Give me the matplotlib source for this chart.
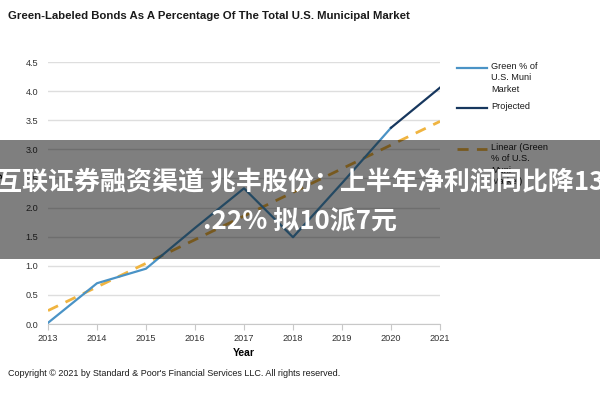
import matplotlib
matplotlib.use("Agg")
import matplotlib.pyplot as plt
from matplotlib import font_manager
from matplotlib.lines import Line2D
from matplotlib.patches import Rectangle

names = {f.name for f in font_manager.fontManager.ttflist}
NARROW = "Liberation Sans Narrow" if "Liberation Sans Narrow" in names else "Liberation Sans"

# ---- data ----
years = [2013, 2014, 2015, 2016, 2017, 2018, 2019, 2020]
green_pct = [0.02, 0.70, 0.95, 1.65, 2.33, 1.49, 2.42, 3.37]
proj_years = [2020, 2021]
proj_vals = [3.37, 4.06]
trend_years = [2013, 2021]
trend_vals = [0.23, 3.48]
xticks = [2013, 2014, 2015, 2016, 2017, 2018, 2019, 2020, 2021]
yticks = [0.0, 0.5, 1.0, 1.5, 2.0, 2.5, 3.0, 3.5, 4.0, 4.5]

title = "Green-Labeled Bonds As A Percentage Of The Total U.S. Municipal Market"
legend_labels = ["Green % of\nU.S. Muni\nMarket", "Projected", "Linear (Green\n% of U.S.\nMuni\nMarket)"]
copyright_txt = "Copyright \u00a9 2021 by Standard & Poor's Financial Services LLC. All rights reserved."
banner_lines = ["互联证券融资渠道 兆丰股份：上半年净利润同比降13", ".22% 拟10派7元"]

C_GREEN = "#4a93c6"
C_PROJ = "#17375e"
C_TREND = "#f0b440"

W, H = 600, 400
fig = plt.figure(figsize=(6, 4), dpi=100)
fig.patch.set_facecolor("white")

def fx(px):
    return px / W

def fy(py):
    return 1 - py / H

ax = fig.add_axes([fx(48), fy(324), fx(440) - fx(48), fy(62) - fy(324)])
ax.set_xlim(2013, 2021)
ax.set_ylim(0, 4.5)
ax.set_yticks(yticks)
ax.set_yticklabels([f"{v:.1f}" for v in yticks], fontfamily=NARROW, fontsize=6.6, color="#333333")
ax.set_xticks(xticks)
ax.set_xticklabels([str(v) for v in xticks], fontfamily=NARROW, fontsize=6.6, color="#333333")
ax.grid(axis="y", color="#dedede", linewidth=1)
ax.set_axisbelow(True)
for s in ["top", "right", "left"]:
    ax.spines[s].set_visible(False)
ax.spines["bottom"].set_color("#c8c8c8")
ax.tick_params(axis="y", length=0, pad=7)
ax.tick_params(axis="x", length=4, color="#c8c8c8", pad=3, direction="out")

ax.plot(trend_years, trend_vals, color=C_TREND, linewidth=2, dashes=(4, 3), zorder=2)
ax.plot(years, green_pct, color=C_GREEN, linewidth=1.6, zorder=3)
ax.plot(proj_years, proj_vals, color=C_PROJ, linewidth=1.6, zorder=3)

ax.set_xlabel("Year", fontfamily=NARROW, fontsize=7.5, fontweight="bold", labelpad=4)
ax.set_ylabel("Percentage", fontfamily=NARROW, fontsize=7, fontweight="bold", labelpad=17)

fig.text(fx(8), fy(16), title, fontfamily=NARROW, fontsize=8.2, fontweight="bold",
         ha="left", va="center", color="#1a1a1a")
fig.text(fx(8), fy(374), copyright_txt, fontfamily=NARROW, fontsize=6.5,
         ha="left", va="center", color="#1a1a1a")

# legend (manual)
leg_y = [68, 108, 149]
leg_styles = [dict(color=C_GREEN, lw=1.6), dict(color=C_PROJ, lw=1.6),
              dict(color=C_TREND, lw=2, dashes=(4, 3))]
for y, lab, st in zip(leg_y, legend_labels, leg_styles):
    fig.add_artist(Line2D([fx(457), fx(487)], [fy(y), fy(y)], transform=fig.transFigure, **st))
    fig.text(fx(491), fy(y - 6), lab, fontfamily=NARROW, fontsize=6.6, ha="left", va="top",
             color="#1a1a1a", linespacing=1.35)

# banner overlay
fig.add_artist(Rectangle((0, fy(259)), 1, fy(140) - fy(259), transform=fig.transFigure,
                         facecolor="black", alpha=0.5, edgecolor="none", zorder=10))
fig.text(0.5, fy(182), banner_lines[0], fontfamily=["Noto Sans CJK SC", "DejaVu Sans"],
         fontsize=18.7, fontweight="bold", color="white", ha="center", va="center", zorder=11)
fig.text(0.5, fy(221), banner_lines[1], fontfamily=["Noto Sans CJK SC", "DejaVu Sans"],
         fontsize=18.7, fontweight="bold", color="white", ha="center", va="center", zorder=11)

fig.savefig("out.png", dpi=100, facecolor="white")
